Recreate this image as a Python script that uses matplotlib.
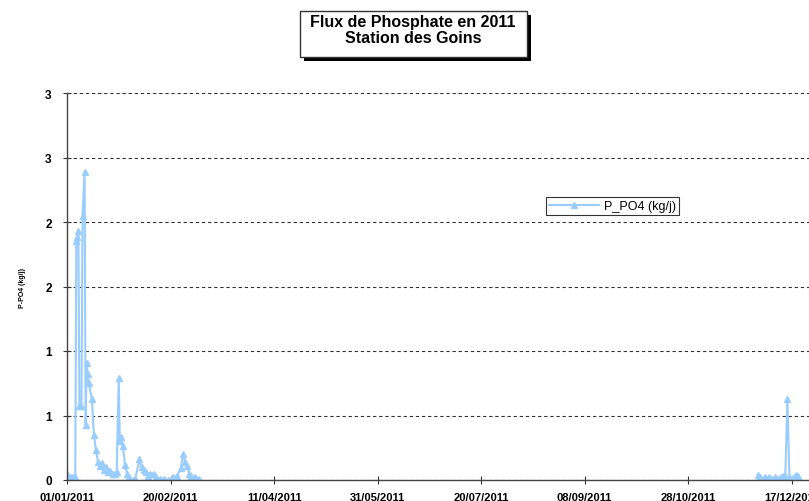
import matplotlib
matplotlib.use("Agg")
import matplotlib.pyplot as plt
import matplotlib.dates as mdates
from matplotlib.patches import Rectangle
import numpy as np
import pandas as pd

plt.rcParams['font.family'] = ['Liberation Sans', 'DejaVu Sans']

# Mesures de début d'année (janvier - début mars)
dates_debut = [
    '2011-01-01 00:00', '2011-01-01 12:00', '2011-01-02', '2011-01-03', '2011-01-04',
    '2011-01-05 00:00', '2011-01-05 12:00', '2011-01-06 00:00', '2011-01-06 12:00',
    '2011-01-07', '2011-01-08 00:00', '2011-01-08 12:00', '2011-01-09 12:00',
    '2011-01-10 00:00', '2011-01-10 12:00', '2011-01-11 00:00', '2011-01-11 12:00',
    '2011-01-13', '2011-01-14', '2011-01-15', '2011-01-16', '2011-01-17', '2011-01-18',
    '2011-01-19', '2011-01-20', '2011-01-21', '2011-01-22', '2011-01-23', '2011-01-24',
    '2011-01-25', '2011-01-26 00:00', '2011-01-26 12:00', '2011-01-27', '2011-01-28',
    '2011-01-29', '2011-01-30', '2011-01-31', '2011-02-02', '2011-02-03', '2011-02-05',
    '2011-02-06', '2011-02-07', '2011-02-08', '2011-02-09', '2011-02-10', '2011-02-12',
    '2011-02-13', '2011-02-15', '2011-02-17', '2011-02-19', '2011-02-21', '2011-02-23',
    '2011-02-25', '2011-02-26', '2011-02-27', '2011-02-28', '2011-03-01', '2011-03-02',
    '2011-03-04', '2011-03-06',
]
flux_debut = [
    0.05, 0.03, 0.02, 0.02, 0.02,
    0.02, 1.85, 1.88, 1.93,
    0.57, 0.57, 2.05, 2.39,
    0.43, 0.91, 0.82, 0.75,
    0.63, 0.35, 0.23, 0.14, 0.11, 0.13,
    0.08, 0.10, 0.06, 0.07, 0.05, 0.05,
    0.06, 0.79, 0.30, 0.33, 0.26,
    0.12, 0.05, 0.02, 0.00, 0.01, 0.16,
    0.10, 0.08, 0.06, 0.03, 0.05, 0.05,
    0.02, 0.01, 0.01, 0.00, 0.02, 0.03,
    0.09, 0.20, 0.14, 0.11, 0.05, 0.03,
    0.02, 0.01,
]

# Mesures de décembre
dates_fin = [
    '2011-12-01', '2011-12-02', '2011-12-03', '2011-12-04', '2011-12-05', '2011-12-06',
    '2011-12-07', '2011-12-08', '2011-12-09', '2011-12-10', '2011-12-11', '2011-12-12',
    '2011-12-13', '2011-12-14', '2011-12-15', '2011-12-16', '2011-12-17', '2011-12-18',
    '2011-12-19', '2011-12-20',
]
flux_fin = [
    0.04, 0.02, 0.01, 0.02, 0.01, 0.02,
    0.01, 0.01, 0.02, 0.01, 0.01, 0.02,
    0.03, 0.03, 0.63, 0.02, 0.01, 0.02,
    0.04, 0.03,
]

y_ticks = [0, 0.5, 1, 1.5, 2, 2.5, 3]
y_tick_labels = ['0', '1', '1', '2', '2', '3', '3']   # format Excel sans décimale
x_ticks = pd.date_range('2011-01-01', periods=8, freq='50D')

# trou entre les deux périodes (pas de données)
x = pd.to_datetime(dates_debut + ['2011-06-01'] + dates_fin, format='mixed')
y = np.array(flux_debut + [np.nan] + flux_fin)

W, H = 809, 502
fig = plt.figure(figsize=(W / 100, H / 100), dpi=100)
ax = fig.add_axes([67 / W, 1 - 481 / H, (820.5 - 67) / W, (481 - 94) / H])

bleu = '#99CCFF'
ax.plot(x, y, color=bleu, linewidth=1.5, marker='^', markersize=5,
        markeredgecolor=bleu, markerfacecolor=bleu, label='P_PO4 (kg/j)')

ax.set_xlim(pd.Timestamp('2011-01-01'), pd.Timestamp('2011-12-31'))
ax.set_ylim(0, 3)
ax.set_yticks(y_ticks)
ax.set_yticklabels(y_tick_labels, fontsize=8.5, fontweight='bold')
ax.set_xticks(x_ticks)
ax.xaxis.set_major_formatter(mdates.DateFormatter('%d/%m/%Y'))
for lab in ax.get_xticklabels():
    lab.set_fontsize(8)
    lab.set_fontweight('bold')

ax.tick_params(axis='both', direction='inout', length=6, width=0.8, color='#333333')
ax.tick_params(axis='x', pad=6)
ax.tick_params(axis='y', pad=8)

ax.grid(axis='y', linestyle=(0, (3, 2.5)), color='#333333', linewidth=0.8)
ax.set_axisbelow(True)
for s in ['top', 'right']:
    ax.spines[s].set_visible(False)
for s in ['left', 'bottom']:
    ax.spines[s].set_color('#444444')
    ax.spines[s].set_linewidth(1.0)

leg = ax.legend(loc='upper left', bbox_to_anchor=((546 - 67) / (820.5 - 67), (481 - 198) / 387),
                fontsize=9, frameon=True, fancybox=False, borderpad=0.25,
                handlelength=4, handletextpad=0.4, borderaxespad=0)
leg.get_frame().set_edgecolor('black')
leg.get_frame().set_linewidth(0.8)

# étiquette de l'axe Y (très petite dans l'original)
fig.text(22 / W, 1 - 288 / H, 'P-PO4 (kg/j)', rotation=90, fontsize=5,
         fontweight='bold', ha='center', va='center')

# cadre du titre avec ombre
fig.patches.append(Rectangle((304 / W, 1 - 62 / H), 227 / W, 46 / H,
                             transform=fig.transFigure, facecolor='black', edgecolor='none'))
fig.patches.append(Rectangle((300 / W, 1 - 58 / H), 227 / W, 46 / H,
                             transform=fig.transFigure, facecolor='white',
                             edgecolor='#333333', linewidth=1))
fig.text(413 / W, 1 - 27.5 / H, 'Flux de Phosphate en 2011', fontsize=11.5,
         fontweight='bold', ha='center', va='baseline')
fig.text(413 / W, 1 - 43 / H, 'Station des Goins', fontsize=11.5,
         fontweight='bold', ha='center', va='baseline')

fig.savefig('out.png', dpi=100)
